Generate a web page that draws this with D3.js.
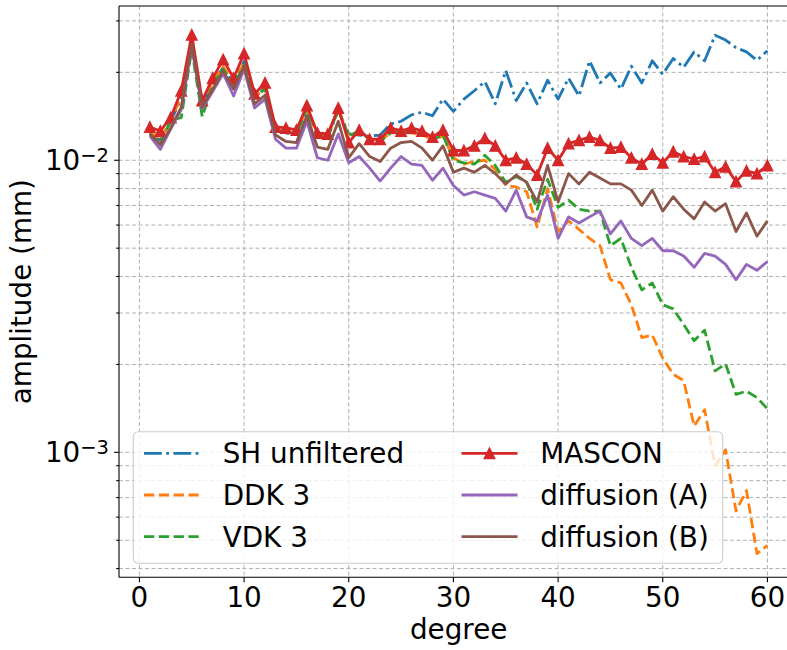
<!DOCTYPE html>
<html>
<head>
<meta charset="utf-8">
<script src="https://cdn.jsdelivr.net/npm/d3@7"></script>
<style>
  body { margin: 0; background: #fff; }
  text { font-family: "DejaVu Sans", sans-serif; }
</style>
</head>
<body>
<div id="chart"></div>
<script>
const degrees = d3.range(1, 61);

const shUnfiltered = [0.0124,0.0117,0.0136,0.0163,0.0252,0.0153,0.0183,0.0208,0.0183,0.0218,
  0.0163,0.0176,0.0127,0.0124,0.0123,0.0149,0.0122,0.0120,0.0148,0.0123,
  0.0122,0.0121,0.0122,0.0133,0.0136,0.0143,0.0146,0.0142,0.0162,0.0147,
  0.0162,0.0173,0.0186,0.0156,0.0203,0.0160,0.0184,0.0156,0.0188,0.0162,
  0.0191,0.0166,0.0219,0.0184,0.0199,0.0175,0.0210,0.0184,0.0219,0.0197,
  0.0223,0.0208,0.0235,0.0219,0.0268,0.0258,0.0243,0.0235,0.0220,0.0237];

const ddk3 = [0.0125,0.0118,0.0137,0.0165,0.0255,0.0155,0.0186,0.0209,0.0186,0.0215,
  0.0164,0.0177,0.0128,0.0125,0.0124,0.0150,0.0123,0.0121,0.0149,0.0121,
  0.0126,0.0118,0.0117,0.0124,0.0124,0.0124,0.0122,0.0118,0.0121,0.0102,
  0.0097,0.0099,0.0100,0.0093,0.0082,0.0081,0.0078,0.0059,0.0080,0.0057,
  0.0062,0.0058,0.0054,0.0051,0.0039,0.0038,0.0032,0.00247,0.00252,0.0021,
  0.00185,0.00176,0.00123,0.0014,0.0009,0.00102,0.00063,0.00074,0.00045,0.00048];

const vdk3 = [0.0123,0.0114,0.0137,0.0140,0.0240,0.0141,0.0182,0.0205,0.0180,0.0212,
  0.0164,0.0177,0.0128,0.0124,0.0124,0.0150,0.0124,0.0121,0.0149,0.0121,
  0.0126,0.0118,0.0116,0.0124,0.0125,0.0125,0.0124,0.0118,0.0122,0.0100,
  0.0098,0.0097,0.0104,0.0096,0.0084,0.0088,0.0084,0.0068,0.0086,0.0069,
  0.0073,0.0068,0.0067,0.0067,0.0051,0.0054,0.0043,0.00360,0.0038,0.0032,
  0.0031,0.00274,0.00241,0.00262,0.0019,0.00201,0.00158,0.00162,0.00154,0.00141];

const mascon = [0.0130,0.0126,0.0140,0.0173,0.0269,0.0160,0.0191,0.0221,0.0191,0.0232,
  0.0169,0.0184,0.0130,0.0129,0.0127,0.0154,0.0124,0.0123,0.0151,0.0115,
  0.0127,0.0118,0.0118,0.0129,0.0126,0.0129,0.0126,0.0120,0.0127,0.0108,
  0.0108,0.0112,0.0119,0.0112,0.0100,0.0102,0.0097,0.0089,0.0110,0.0100,
  0.0114,0.0117,0.0120,0.0117,0.0110,0.0111,0.0102,0.0097,0.0105,0.0098,
  0.0107,0.0103,0.0101,0.0103,0.0091,0.0095,0.00845,0.0092,0.0090,0.0096];

const diffusionA = [0.0121,0.0109,0.0128,0.0149,0.0245,0.0150,0.0172,0.0198,0.0166,0.0205,
  0.0151,0.0162,0.0118,0.0110,0.0110,0.0136,0.0102,0.0100,0.0123,0.0098,
  0.0103,0.0094,0.00849,0.0094,0.0103,0.0097,0.0096,0.00854,0.0094,0.0082,
  0.0076,0.0078,0.0076,0.0074,0.0067,0.0079,0.0064,0.0062,0.0076,0.0054,
  0.0064,0.0061,0.0064,0.0067,0.0056,0.0062,0.0054,0.0051,0.0054,0.0049,
  0.0049,0.0047,0.0043,0.0048,0.0047,0.0044,0.0039,0.0044,0.0042,0.0045];

const diffusionB = [0.0123,0.0113,0.0129,0.0152,0.0249,0.0152,0.0175,0.0202,0.0175,0.0210,
  0.0156,0.0167,0.0122,0.0116,0.0115,0.0142,0.0111,0.0109,0.0136,0.0102,
  0.0114,0.0103,0.0099,0.0110,0.0115,0.0116,0.0110,0.0100,0.0112,0.0091,
  0.0094,0.0091,0.0096,0.0090,0.0083,0.0089,0.0084,0.0072,0.0096,0.0072,
  0.0090,0.0083,0.0091,0.0087,0.0083,0.0083,0.0079,0.0070,0.0079,0.0067,
  0.0075,0.0068,0.0063,0.0072,0.0067,0.0071,0.0057,0.0066,0.0055,0.0062];

const seriesNames = ["SH unfiltered", "DDK 3", "VDK 3", "MASCON", "diffusion (A)", "diffusion (B)"];
const seriesColors = ["#1f77b4", "#ff7f0e", "#2ca02c", "#d62728", "#9467bd", "#8c564b"];
const xTicks = [0, 10, 20, 30, 40, 50, 60];
const yMajorTicks = [1e-3, 1e-2];
const yMajorExp = ["−3", "−2"];
const xLimits = [-1.95, 62.95];
const yLimits = [3.734e-4, 0.03374];
const xLabel = "degree";
const yLabel = "amplitude (mm)";

const seriesValues = [shUnfiltered, ddk3, vdk3, mascon, diffusionA, diffusionB];
const dashes = ["17.8,4.4,2.8,4.4", "10.3,4.5", "10.3,4.5", null, null, null];

const W = 787, H = 650;
const plot = { left: 119, right: 798.3, top: 6, bottom: 577.3 };
const FS = 27.8;

const svg = d3.select("#chart").append("svg")
  .attr("width", W).attr("height", H)
  .style("display", "block");

const x = d3.scaleLinear().domain(xLimits).range([plot.left, plot.right]);
const y = d3.scaleLog().domain(yLimits).range([plot.bottom, plot.top]);

// minor ticks
const yMinor = [];
[1e-4, 1e-3, 1e-2].forEach(dec => {
  for (let k = 2; k <= 9; k++) {
    const v = k * dec;
    if (v >= yLimits[0] && v <= yLimits[1]) yMinor.push(v);
  }
});

svg.append("defs").append("clipPath").attr("id", "clip")
  .append("rect")
  .attr("x", plot.left).attr("y", plot.top)
  .attr("width", plot.right - plot.left).attr("height", plot.bottom - plot.top);

// grid
const grid = svg.append("g").attr("stroke", "#b0b0b0").attr("stroke-width", 1)
  .attr("stroke-dasharray", "4,2.5").attr("fill", "none");
xTicks.forEach(t => grid.append("line")
  .attr("x1", x(t)).attr("x2", x(t)).attr("y1", plot.top).attr("y2", plot.bottom));
yMajorTicks.concat(yMinor).forEach(t => grid.append("line")
  .attr("x1", plot.left).attr("x2", plot.right).attr("y1", y(t)).attr("y2", y(t)));

// lines
const lineGen = d3.line().x((d, i) => x(degrees[i])).y(d => y(d));
const linesG = svg.append("g").attr("clip-path", "url(#clip)");
const triPath = s => `M0,${-s/2}L${s/2},${s/2}L${-s/2},${s/2}Z`;
const TRI = 10.5;

seriesValues.forEach((vals, si) => {
  linesG.append("path")
    .attr("d", lineGen(vals))
    .attr("fill", "none")
    .attr("stroke", seriesColors[si])
    .attr("stroke-width", 2.8)
    .attr("stroke-linejoin", "round")
    .attr("stroke-dasharray", dashes[si]);
  if (seriesNames[si] === "MASCON") {
    linesG.append("g").selectAll("path").data(vals).join("path")
      .attr("transform", (d, i) => `translate(${x(degrees[i])},${y(d)})`)
      .attr("d", triPath(TRI))
      .attr("fill", seriesColors[si])
      .attr("stroke", seriesColors[si])
      .attr("stroke-width", 1.4)
      .attr("stroke-linejoin", "miter");
  }
});

// axes spines
const ax = svg.append("g").attr("stroke", "#000").attr("stroke-width", 1.1);
ax.append("line").attr("x1", plot.left).attr("x2", plot.left).attr("y1", plot.top).attr("y2", plot.bottom);
ax.append("line").attr("x1", plot.left).attr("x2", plot.right).attr("y1", plot.bottom).attr("y2", plot.bottom);
ax.append("line").attr("x1", plot.left).attr("x2", plot.right).attr("y1", plot.top).attr("y2", plot.top);
ax.append("line").attr("x1", plot.right).attr("x2", plot.right).attr("y1", plot.top).attr("y2", plot.bottom);

// x ticks
xTicks.forEach(t => {
  ax.append("line").attr("x1", x(t)).attr("x2", x(t)).attr("y1", plot.bottom).attr("y2", plot.bottom + 4.9);
  svg.append("text").attr("x", x(t)).attr("y", 607).attr("text-anchor", "middle")
    .attr("font-size", FS).attr("fill", "#000").text(t);
});
// y ticks
yMinor.forEach(t => ax.append("line").attr("x1", plot.left - 2.8).attr("x2", plot.left).attr("y1", y(t)).attr("y2", y(t)));
yMajorTicks.forEach((t, i) => {
  ax.append("line").attr("x1", plot.left - 4.9).attr("x2", plot.left).attr("y1", y(t)).attr("y2", y(t));
  const tx = svg.append("text").attr("x", 109).attr("y", y(t) + 10).attr("text-anchor", "end")
    .attr("font-size", FS).attr("fill", "#000");
  tx.append("tspan").text("10");
  tx.append("tspan").attr("dy", -8.5).attr("font-size", 19.5).text(yMajorExp[i]);
});

// axis labels
svg.append("text").attr("x", (plot.left + plot.right) / 2).attr("y", 639)
  .attr("text-anchor", "middle").attr("font-size", FS).text(xLabel);
svg.append("text").attr("transform", `translate(31,${(plot.top + plot.bottom) / 2}) rotate(-90)`)
  .attr("text-anchor", "middle").attr("font-size", FS).text(yLabel);

// legend
const leg = svg.append("g");
leg.append("rect").attr("x", 133.3).attr("y", 431.7).attr("width", 589.4).attr("height", 131.6)
  .attr("rx", 5).attr("fill", "#fff").attr("fill-opacity", 0.8)
  .attr("stroke", "#cccccc").attr("stroke-width", 1.1);
const rowY = [453.3, 495, 536.7];
const colX = [144, 461.5];
const handleLen = 56;
const textOff = 78.7;
seriesNames.forEach((name, si) => {
  const c = Math.floor(si / 3), r = si % 3;
  const hx = colX[c], hy = rowY[r];
  leg.append("line").attr("x1", hx).attr("x2", hx + handleLen).attr("y1", hy).attr("y2", hy)
    .attr("stroke", seriesColors[si]).attr("stroke-width", 2.8)
    .attr("stroke-dasharray", dashes[si]);
  if (name === "MASCON") {
    leg.append("path").attr("transform", `translate(${hx + handleLen / 2},${hy})`)
      .attr("d", triPath(TRI)).attr("fill", seriesColors[si])
      .attr("stroke", seriesColors[si]).attr("stroke-width", 1.4);
  }
  leg.append("text").attr("x", hx + textOff).attr("y", hy + 10)
    .attr("font-size", FS).attr("fill", "#000").text(name);
});
</script>
</body>
</html>
